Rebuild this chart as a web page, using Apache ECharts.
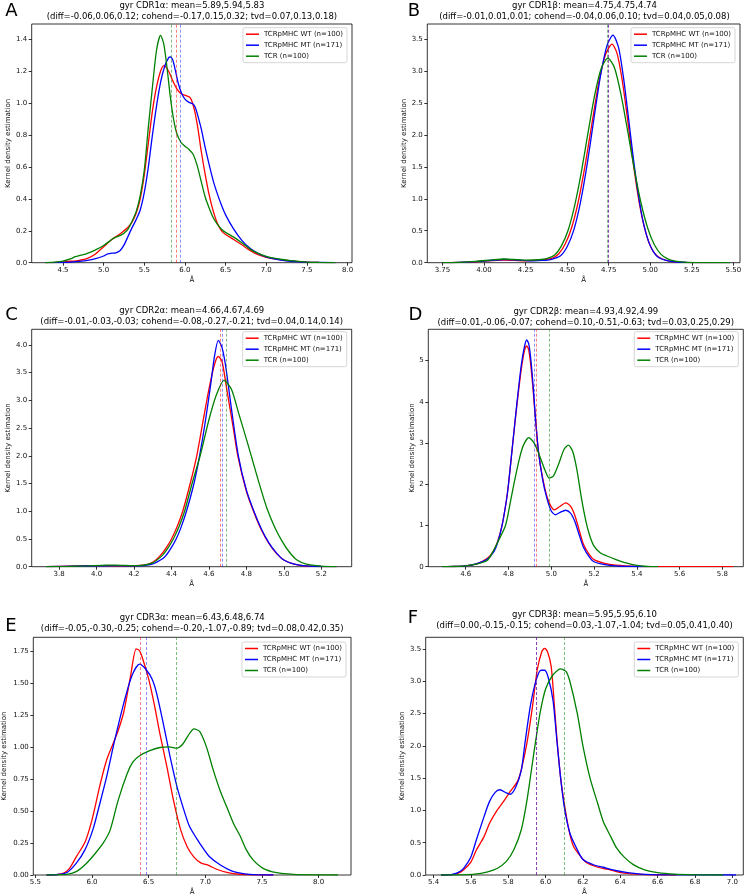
<!DOCTYPE html>
<html><head><meta charset="utf-8">
<script src="https://cdn.jsdelivr.net/npm/echarts@6/dist/echarts.min.js"></script>
<style>html,body{margin:0;padding:0;background:#fff}#c{width:749px;height:896px}</style>
</head><body><div id="c"></div>
<script>
// ---------------- DATA ----------------
const seriesNames = ['TCRpMHC WT (n=100)', 'TCRpMHC MT (n=171)', 'TCR (n=100)'];
const panelLetters = ['A', 'B', 'C', 'D', 'E', 'F'];
const titleLine1 = [
  'gyr CDR1α: mean=5.89,5.94,5.83',
  'gyr CDR1β: mean=4.75,4.75,4.74',
  'gyr CDR2α: mean=4.66,4.67,4.69',
  'gyr CDR2β: mean=4.93,4.92,4.99',
  'gyr CDR3α: mean=6.43,6.48,6.74',
  'gyr CDR3β: mean=5.95,5.95,6.10'
];
const titleLine2 = [
  '(diff=-0.06,0.06,0.12; cohend=-0.17,0.15,0.32; tvd=0.07,0.13,0.18)',
  '(diff=-0.01,0.01,0.01; cohend=-0.04,0.06,0.10; tvd=0.04,0.05,0.08)',
  '(diff=-0.01,-0.03,-0.03; cohend=-0.08,-0.27,-0.21; tvd=0.04,0.14,0.14)',
  '(diff=0.01,-0.06,-0.07; cohend=0.10,-0.51,-0.63; tvd=0.03,0.25,0.29)',
  '(diff=-0.05,-0.30,-0.25; cohend=-0.20,-1.07,-0.89; tvd=0.08,0.42,0.35)',
  '(diff=0.00,-0.15,-0.15; cohend=0.03,-1.07,-1.04; tvd=0.05,0.41,0.40)'
];
// means (WT, MT, TCR)
const meansA = [5.89, 5.94, 5.83];
const meansB = [4.75, 4.75, 4.74];
const meansC = [4.66, 4.67, 4.69];
const meansD = [4.93, 4.92, 4.99];
const meansE = [6.43, 6.48, 6.74];
const meansF = [5.95, 5.95, 6.10];

// tick values
const xTicksA = [4.5, 5.0, 5.5, 6.0, 6.5, 7.0, 7.5, 8.0];
const yTicksA = [0, 0.2, 0.4, 0.6, 0.8, 1.0, 1.2, 1.4];
const xTicksB = [3.75, 4.0, 4.25, 4.5, 4.75, 5.0, 5.25, 5.5];
const yTicksB = [0, 0.5, 1.0, 1.5, 2.0, 2.5, 3.0, 3.5];
const xTicksC = [3.8, 4.0, 4.2, 4.4, 4.6, 4.8, 5.0, 5.2];
const yTicksC = [0, 0.5, 1.0, 1.5, 2.0, 2.5, 3.0, 3.5, 4.0];
const xTicksD = [4.6, 4.8, 5.0, 5.2, 5.4, 5.6, 5.8];
const yTicksD = [0, 1, 2, 3, 4, 5];
const xTicksE = [5.5, 6.0, 6.5, 7.0, 7.5, 8.0];
const yTicksE = [0, 0.25, 0.5, 0.75, 1.0, 1.25, 1.5, 1.75];
const xTicksF = [5.4, 5.6, 5.8, 6.0, 6.2, 6.4, 6.6, 6.8, 7.0];
const yTicksF = [0, 0.5, 1.0, 1.5, 2.0, 2.5, 3.0, 3.5];

// KDE curves [x, density]
const A_WT = [[4.28,0],[4.4,0.002],[4.5,0.005],[4.6,0.009],[4.7,0.015],[4.8,0.027],[4.9,0.055],[5.0,0.1],[5.1,0.145],[5.2,0.18],[5.3,0.222],[5.35,0.255],[5.4,0.31],[5.45,0.4],[5.5,0.55],[5.55,0.75],[5.6,0.95],[5.65,1.1],[5.7,1.2],[5.74,1.235],[5.8,1.2],[5.85,1.14],[5.9,1.09],[5.95,1.06],[6.0,1.05],[6.05,1.04],[6.08,1.02],[6.12,0.95],[6.16,0.84],[6.2,0.7],[6.25,0.55],[6.3,0.42],[6.35,0.32],[6.4,0.245],[6.45,0.2],[6.5,0.177],[6.6,0.145],[6.7,0.112],[6.8,0.077],[6.9,0.05],[7.0,0.034],[7.1,0.024],[7.2,0.017],[7.3,0.011],[7.4,0.007],[7.5,0.004],[7.65,0.002],[7.85,0]];
const A_MT = [[4.28,0],[4.5,0.002],[4.6,0.004],[4.7,0.008],[4.8,0.014],[4.9,0.025],[5.0,0.042],[5.05,0.055],[5.1,0.06],[5.15,0.062],[5.2,0.075],[5.25,0.11],[5.3,0.165],[5.35,0.22],[5.4,0.27],[5.45,0.33],[5.5,0.44],[5.55,0.6],[5.6,0.8],[5.65,0.98],[5.7,1.13],[5.75,1.23],[5.8,1.285],[5.82,1.29],[5.85,1.27],[5.88,1.21],[5.92,1.12],[5.96,1.06],[6.0,1.025],[6.05,1.005],[6.1,0.995],[6.13,0.97],[6.17,0.9],[6.2,0.84],[6.25,0.72],[6.3,0.61],[6.35,0.51],[6.4,0.43],[6.45,0.36],[6.5,0.3],[6.6,0.21],[6.7,0.14],[6.8,0.09],[6.9,0.058],[7.0,0.037],[7.1,0.024],[7.2,0.015],[7.3,0.009],[7.4,0.005],[7.5,0.003],[7.85,0]];
const A_TCR = [[4.28,0],[4.4,0.003],[4.5,0.01],[4.6,0.025],[4.65,0.038],[4.7,0.045],[4.75,0.05],[4.8,0.058],[4.9,0.08],[5.0,0.108],[5.1,0.145],[5.15,0.16],[5.2,0.17],[5.25,0.185],[5.3,0.21],[5.35,0.26],[5.4,0.32],[5.45,0.42],[5.5,0.58],[5.55,0.85],[5.6,1.1],[5.65,1.33],[5.7,1.425],[5.74,1.37],[5.78,1.22],[5.82,1.04],[5.86,0.9],[5.9,0.81],[5.95,0.755],[6.0,0.73],[6.05,0.71],[6.1,0.68],[6.15,0.61],[6.2,0.51],[6.25,0.41],[6.3,0.34],[6.35,0.28],[6.4,0.24],[6.45,0.21],[6.5,0.19],[6.6,0.16],[6.7,0.125],[6.8,0.085],[6.9,0.058],[7.0,0.04],[7.1,0.028],[7.2,0.02],[7.3,0.013],[7.4,0.008],[7.5,0.004],[7.65,0.002],[7.85,0]];

const B_WT = [[3.75,0],[3.85,0.004],[3.95,0.015],[4.05,0.032],[4.12,0.04],[4.18,0.038],[4.25,0.03],[4.3,0.035],[4.37,0.05],[4.41,0.07],[4.45,0.14],[4.49,0.3],[4.53,0.57],[4.57,0.99],[4.61,1.55],[4.65,2.19],[4.69,2.81],[4.73,3.25],[4.77,3.42],[4.8,3.28],[4.83,2.88],[4.86,2.32],[4.89,1.71],[4.92,1.16],[4.95,0.72],[4.98,0.41],[5.01,0.21],[5.04,0.11],[5.08,0.05],[5.13,0.018],[5.2,0.005],[5.3,0.001],[5.48,0]];
const B_MT = [[3.75,0],[3.85,0.005],[3.95,0.018],[4.05,0.038],[4.12,0.05],[4.18,0.045],[4.25,0.033],[4.3,0.03],[4.35,0.035],[4.4,0.05],[4.46,0.11],[4.5,0.25],[4.54,0.51],[4.58,0.94],[4.62,1.53],[4.66,2.23],[4.7,2.91],[4.74,3.4],[4.776,3.56],[4.81,3.36],[4.84,2.88],[4.87,2.25],[4.9,1.6],[4.93,1.04],[4.96,0.61],[4.99,0.33],[5.02,0.17],[5.05,0.08],[5.09,0.04],[5.14,0.015],[5.22,0.004],[5.48,0]];
const B_TCR = [[3.75,0],[3.85,0.006],[3.95,0.02],[4.05,0.045],[4.12,0.058],[4.18,0.05],[4.25,0.04],[4.3,0.042],[4.345,0.05],[4.385,0.07],[4.425,0.12],[4.465,0.26],[4.505,0.5],[4.545,0.89],[4.585,1.41],[4.625,2.02],[4.665,2.61],[4.705,3.04],[4.745,3.2],[4.785,3.05],[4.825,2.62],[4.865,2.05],[4.905,1.45],[4.945,0.93],[4.985,0.54],[5.025,0.28],[5.065,0.13],[5.105,0.06],[5.15,0.025],[5.2,0.01],[5.3,0.002],[5.48,0]];

const C_WT = [[3.73,0],[3.85,0.01],[3.95,0.02],[4.05,0.02],[4.15,0.015],[4.25,0.03],[4.3,0.08],[4.34,0.2],[4.37,0.33],[4.4,0.5],[4.43,0.72],[4.46,1.0],[4.5,1.5],[4.535,2.0],[4.57,2.65],[4.6,3.2],[4.63,3.65],[4.65,3.79],[4.67,3.7],[4.7,3.1],[4.73,2.5],[4.754,2.0],[4.8,1.36],[4.84,0.98],[4.88,0.66],[4.92,0.42],[4.96,0.24],[5.0,0.12],[5.05,0.05],[5.1,0.018],[5.2,0.003],[5.28,0]];
const C_MT = [[3.73,0],[3.9,0.01],[4.0,0.015],[4.1,0.02],[4.2,0.015],[4.25,0.02],[4.3,0.05],[4.35,0.14],[4.37,0.2],[4.4,0.35],[4.425,0.5],[4.45,0.7],[4.48,1.0],[4.52,1.5],[4.55,2.0],[4.58,2.6],[4.61,3.3],[4.63,3.8],[4.65,4.08],[4.67,3.95],[4.69,3.6],[4.72,2.85],[4.757,2.0],[4.8,1.38],[4.84,1.0],[4.88,0.68],[4.92,0.43],[4.96,0.25],[5.0,0.12],[5.05,0.05],[5.1,0.018],[5.2,0.003],[5.28,0]];
const C_TCR = [[3.73,0],[3.85,0.005],[3.95,0.015],[4.05,0.03],[4.1,0.03],[4.2,0.02],[4.25,0.03],[4.3,0.07],[4.35,0.2],[4.38,0.33],[4.41,0.5],[4.44,0.72],[4.47,1.0],[4.51,1.5],[4.553,2.0],[4.6,2.65],[4.64,3.1],[4.68,3.36],[4.72,3.2],[4.76,2.75],[4.8,2.3],[4.83,1.95],[4.87,1.48],[4.91,1.05],[4.95,0.72],[4.99,0.46],[5.03,0.26],[5.07,0.12],[5.12,0.045],[5.2,0.01],[5.28,0]];

const D_WT = [[4.5,0],[4.55,0.005],[4.6,0.02],[4.65,0.07],[4.7,0.2],[4.73,0.38],[4.75,0.62],[4.77,1.0],[4.79,1.6],[4.8,2.0],[4.82,3.0],[4.84,3.95],[4.86,4.8],[4.875,5.25],[4.885,5.36],[4.895,5.25],[4.905,4.85],[4.915,4.3],[4.925,3.65],[4.94,2.8],[4.96,2.15],[4.98,1.7],[5.0,1.45],[5.015,1.38],[5.04,1.46],[5.067,1.55],[5.09,1.47],[5.11,1.25],[5.13,0.9],[5.15,0.55],[5.18,0.28],[5.2,0.17],[5.25,0.08],[5.3,0.04],[5.4,0.01],[5.5,0.003],[5.6,0.001],[5.85,0]];
const D_MT = [[4.49,0],[4.55,0.005],[4.6,0.02],[4.65,0.07],[4.7,0.18],[4.73,0.35],[4.75,0.6],[4.77,1.0],[4.79,1.6],[4.8,2.0],[4.82,3.0],[4.84,4.0],[4.86,4.9],[4.875,5.35],[4.885,5.5],[4.895,5.4],[4.905,5.0],[4.915,4.4],[4.925,3.7],[4.94,2.8],[4.96,2.1],[4.98,1.65],[5.0,1.35],[5.02,1.26],[5.045,1.33],[5.067,1.37],[5.09,1.3],[5.11,1.1],[5.13,0.78],[5.15,0.48],[5.18,0.22],[5.2,0.12],[5.25,0.05],[5.3,0.02],[5.4,0.003],[5.45,0]];
const D_TCR = [[4.49,0],[4.55,0.005],[4.6,0.02],[4.65,0.06],[4.7,0.15],[4.72,0.3],[4.75,0.6],[4.786,1.0],[4.81,1.6],[4.825,2.0],[4.85,2.6],[4.87,2.95],[4.895,3.13],[4.92,3.0],[4.945,2.7],[4.97,2.35],[4.99,2.15],[5.01,2.2],[5.035,2.5],[5.06,2.85],[5.08,2.95],[5.1,2.8],[5.12,2.35],[5.14,1.7],[5.16,1.15],[5.18,0.75],[5.2,0.5],[5.23,0.33],[5.26,0.26],[5.3,0.18],[5.35,0.09],[5.4,0.03],[5.45,0.005],[5.5,0]];

const E_WT = [[5.6,0],[5.7,0.005],[5.75,0.015],[5.8,0.05],[5.86,0.14],[5.94,0.26],[6.0,0.43],[6.07,0.7],[6.13,0.9],[6.22,1.1],[6.28,1.27],[6.34,1.55],[6.39,1.765],[6.42,1.75],[6.45,1.68],[6.5,1.53],[6.55,1.33],[6.6,1.1],[6.66,0.85],[6.72,0.58],[6.78,0.36],[6.84,0.22],[6.9,0.14],[6.96,0.095],[7.03,0.075],[7.1,0.045],[7.2,0.018],[7.3,0.006],[7.45,0.001],[7.6,0]];
const E_MT = [[5.6,0],[5.7,0.004],[5.78,0.02],[5.86,0.09],[5.94,0.2],[6.01,0.36],[6.07,0.56],[6.13,0.77],[6.2,1.05],[6.28,1.34],[6.35,1.55],[6.42,1.645],[6.48,1.6],[6.53,1.53],[6.57,1.42],[6.63,1.18],[6.69,0.92],[6.75,0.69],[6.81,0.51],[6.86,0.38],[6.92,0.29],[6.98,0.21],[7.04,0.14],[7.13,0.08],[7.25,0.026],[7.39,0.005],[7.6,0]];
const E_TCR = [[5.6,0],[5.7,0.002],[5.78,0.005],[5.86,0.026],[5.95,0.09],[6.03,0.17],[6.1,0.25],[6.16,0.35],[6.23,0.58],[6.31,0.79],[6.36,0.88],[6.42,0.93],[6.51,0.97],[6.6,0.995],[6.68,1.0],[6.75,0.99],[6.8,1.02],[6.85,1.09],[6.9,1.14],[6.95,1.12],[7.01,1.0],[7.07,0.82],[7.13,0.66],[7.19,0.53],[7.25,0.4],[7.31,0.3],[7.36,0.2],[7.42,0.12],[7.51,0.052],[7.63,0.018],[7.78,0.005],[8.0,0.001],[8.17,0]];

const F_WT = [[5.44,0],[5.5,0.005],[5.53,0.025],[5.56,0.077],[5.6,0.2],[5.63,0.39],[5.67,0.59],[5.7,0.8],[5.74,1.0],[5.78,1.16],[5.81,1.29],[5.85,1.45],[5.87,1.63],[5.9,2.04],[5.93,2.61],[5.955,3.17],[5.98,3.46],[5.995,3.51],[6.01,3.46],[6.03,3.23],[6.045,2.71],[6.06,2.14],[6.08,1.52],[6.1,1.11],[6.125,0.7],[6.15,0.44],[6.19,0.28],[6.22,0.19],[6.28,0.12],[6.33,0.09],[6.37,0.06],[6.42,0.03],[6.51,0.01],[6.6,0.002],[6.7,0]];
const F_MT = [[5.44,0],[5.5,0.008],[5.53,0.036],[5.56,0.1],[5.6,0.28],[5.63,0.55],[5.67,0.9],[5.7,1.14],[5.73,1.28],[5.755,1.32],[5.79,1.27],[5.81,1.25],[5.84,1.36],[5.87,1.62],[5.89,2.05],[5.92,2.64],[5.95,3.02],[5.975,3.17],[5.995,3.17],[6.015,3.05],[6.04,2.7],[6.06,2.1],[6.08,1.52],[6.1,1.06],[6.13,0.65],[6.17,0.39],[6.2,0.24],[6.26,0.155],[6.31,0.12],[6.36,0.08],[6.44,0.036],[6.51,0.015],[6.63,0.003],[6.8,0.001],[7.02,0]];
const F_TCR = [[5.44,0],[5.55,0.003],[5.62,0.012],[5.69,0.05],[5.74,0.1],[5.79,0.21],[5.83,0.39],[5.87,0.7],[5.9,1.15],[5.94,1.94],[5.97,2.5],[6.0,2.88],[6.04,3.1],[6.08,3.19],[6.11,3.15],[6.13,3.0],[6.17,2.5],[6.2,2.0],[6.24,1.48],[6.28,1.1],[6.31,0.82],[6.35,0.59],[6.38,0.42],[6.42,0.28],[6.47,0.16],[6.53,0.08],[6.6,0.036],[6.69,0.012],[6.8,0.003],[6.95,0]];

// ---------------- LAYOUT / STYLE ----------------
const FONT = 'DejaVu Sans';
const lineColors = ['#ff0000', '#0000ff', '#008000'];
const dashColors = ['rgba(255,0,0,0.5)', 'rgba(0,0,255,0.45)', 'rgba(0,128,0,0.5)'];

const panels = [
  {grid:{left:31.7, top:24, width:320.3, height:238.7}, xr:[4.115, 8.055], yr:[0, 1.496], xt:xTicksA, yt:yTicksA, xd:1, yd:1,
   curves:[A_WT, A_MT, A_TCR], means:meansA, yGap:19.5, leg:{right:402, top:27.7}, title:{cx:191.9, y1:6, y2:16.5}, letter:{x:11.5, y:11.5}},
  {grid:{left:427.3, top:24, width:312.7, height:238.7}, xr:[3.659, 5.54], yr:[0, 3.735], xt:xTicksB, yt:yTicksB, xd:2, yd:1,
   curves:[B_WT, B_MT, B_TCR], means:meansB, yGap:19.5, leg:{right:14, top:27.7}, title:{cx:584.5, y1:6, y2:16.5}, letter:{x:414, y:11.5}},
  {grid:{left:31.7, top:329.3, width:320, height:237.4}, xr:[3.654, 5.362], yr:[0, 4.28], xt:xTicksC, yt:yTicksC, xd:1, yd:1,
   curves:[C_WT, C_MT, C_TCR], means:meansC, yGap:19.5, leg:{right:402.3, top:331.7}, title:{cx:191.7, y1:310.5, y2:321.5}, letter:{x:11.5, y:315}},
  {grid:{left:428.3, top:329.3, width:315, height:237.4}, xr:[4.425, 5.898], yr:[0, 5.76], xt:xTicksD, yt:yTicksD, xd:1, yd:0,
   curves:[D_WT, D_MT, D_TCR], means:meansD, yGap:12.5, leg:{right:10.7, top:331.7}, title:{cx:585.8, y1:312, y2:322.5}, letter:{x:415.5, y:315.5}},
  {grid:{left:33.3, top:637.3, width:317.7, height:237.7}, xr:[5.482, 8.286], yr:[0, 1.855], xt:xTicksE, yt:yTicksE, xd:1, yd:2,
   curves:[E_WT, E_MT, E_TCR], means:meansE, yGap:25.5, leg:{right:403, top:642}, title:{cx:192.2, y1:617.5, y2:628.3}, letter:{x:11, y:626.5}},
  {grid:{left:425.7, top:637.3, width:317.6, height:237.7}, xr:[5.358, 7.059], yr:[0, 3.68], xt:xTicksF, yt:yTicksF, xd:1, yd:1,
   curves:[F_WT, F_MT, F_TCR], means:meansF, yGap:18, leg:{right:10.7, top:642}, title:{cx:584.5, y1:615, y2:625.5}, letter:{x:413, y:618.5}}
];

const option = {animation:false, backgroundColor:'#fff', grid:[], xAxis:[], yAxis:[], series:[], legend:[], graphic:[]};

panels.forEach((p, i) => {
  option.grid.push(Object.assign({show:true, borderColor:'#000', borderWidth:0.8, backgroundColor:'transparent', containLabel:false, outerBoundsMode:'none'}, p.grid));
  option.xAxis.push({
    type:'value', gridIndex:i, min:p.xr[0], max:p.xr[1],
    splitLine:{show:false}, axisLine:{show:false},
    axisTick:{show:true, customValues:p.xt, length:3, lineStyle:{color:'#000', width:0.8}},
    axisLabel:{customValues:p.xt, formatter:(v)=>Number(v).toFixed(p.xd), fontSize:7, color:'#111', fontFamily:FONT, margin:4, hideOverlap:false},
    name:'Å', nameLocation:'middle', nameGap:14, nameTextStyle:{fontSize:7, fontFamily:FONT, color:'#111'}
  });
  option.yAxis.push({
    type:'value', gridIndex:i, min:p.yr[0], max:p.yr[1],
    splitLine:{show:false}, axisLine:{show:false},
    axisTick:{show:true, customValues:p.yt, length:3, lineStyle:{color:'#000', width:0.8}},
    axisLabel:{customValues:p.yt, formatter:(v)=>Number(v).toFixed(p.yd), fontSize:7, color:'#111', fontFamily:FONT, margin:4.5, hideOverlap:false},
    name:'Kernel density estimation', nameLocation:'middle', nameRotate:90, nameGap:p.yGap,
    nameTextStyle:{fontSize:7, fontFamily:FONT, color:'#111'}
  });
  p.curves.forEach((c, k) => {
    option.series.push({
      type:'line', name:seriesNames[k], xAxisIndex:i, yAxisIndex:i, data:c,
      showSymbol:false, symbol:'none', smooth:0.25,
      lineStyle:{color:lineColors[k], width:1.3}, itemStyle:{color:lineColors[k]},
      markLine:{silent:true, symbol:['none','none'], label:{show:false},
        lineStyle:{color:dashColors[k], type:[3,2], width:1}, data:[{xAxis:p.means[k]}]}
    });
  });
  option.legend.push({
    orient:'vertical', right:p.leg.right, top:p.leg.top, data:seriesNames, selectedMode:false,
    icon:'rect', itemWidth:13, itemHeight:1.5, itemGap:2, padding:[2,4,2,3],
    backgroundColor:'#fff', borderColor:'#cccccc', borderWidth:0.8, borderRadius:2,
    textStyle:{fontSize:7, fontFamily:FONT, color:'#111', lineHeight:9}
  });
  option.graphic.push({type:'text', x:p.title.cx, y:p.title.y1, silent:true,
    style:{text:titleLine1[i], font:'8.5px "DejaVu Sans"', fill:'#000', align:'center', verticalAlign:'middle'}});
  option.graphic.push({type:'text', x:p.title.cx, y:p.title.y2, silent:true,
    style:{text:titleLine2[i], font:'8.5px "DejaVu Sans"', fill:'#000', align:'center', verticalAlign:'middle'}});
  option.graphic.push({type:'text', x:p.letter.x, y:p.letter.y, silent:true,
    style:{text:panelLetters[i], font:'18px "DejaVu Sans"', fill:'#000', align:'center', verticalAlign:'middle'}});
});

const chart = echarts.init(document.getElementById('c'), null, {renderer:'canvas', width:749, height:896});
chart.setOption(option);
</script>
</body></html>
